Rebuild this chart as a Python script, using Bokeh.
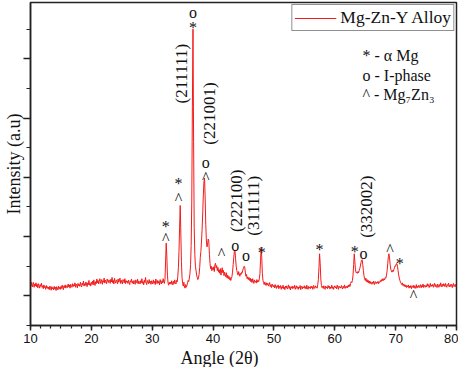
import numpy as np
from bokeh.plotting import figure
from bokeh.models import (Range1d, SingleIntervalTicker, ColumnDataSource, Title,
                          CustomJSTickFormatter)
from bokeh.core.properties import value
from bokeh.embed import file_html
from bokeh.resources import INLINE

# ---------------- data ----------------
# XRD pattern, 2-theta from 10.0 to 80.0 in 0.1 deg steps; intensity (a.u.)
two_theta_start = 10.0
two_theta_step = 0.1
intensity_rows = [
    [42, 34, 46, 30, 38, 45, 29, 40, 33, 44],   # 10
    [31, 39, 27, 41, 35, 26, 38, 32, 43, 29],   # 11
    [34, 24, 37, 28, 32, 22, 35, 27, 31, 23],   # 12
    [30, 21, 33, 25, 19, 31, 24, 28, 20, 32],   # 13
    [23, 29, 18, 31, 26, 20, 33, 24, 29, 22],   # 14
    [32, 25, 36, 27, 21, 34, 28, 37, 26, 31],   # 15
    [35, 28, 40, 30, 37, 26, 39, 32, 29, 41],   # 16
    [31, 38, 33, 44, 29, 40, 35, 27, 42, 34],   # 17
    [39, 32, 46, 36, 30, 43, 37, 50, 33, 41],   # 18
    [35, 47, 40, 31, 44, 38, 52, 36, 42, 33],   # 19
    [46, 39, 50, 37, 54, 43, 35, 48, 41, 57],   # 20
    [44, 52, 40, 49, 58, 42, 47, 55, 39, 51],   # 21
    [46, 60, 43, 53, 48, 41, 57, 50, 45, 54],   # 22
    [49, 42, 56, 47, 62, 44, 52, 40, 59, 48],   # 23
    [43, 54, 49, 41, 57, 46, 51, 60, 42, 53],   # 24
    [47, 40, 55, 49, 44, 58, 41, 52, 46, 50],   # 25
    [42, 53, 45, 38, 51, 47, 57, 43, 49, 40],   # 26
    [52, 45, 39, 54, 48, 43, 56, 41, 50, 46],   # 27
    [40, 51, 44, 58, 42, 48, 37, 53, 45, 62],   # 28
    [44, 38, 52, 47, 41, 55, 43, 49, 39, 51],   # 29
    [46, 40, 54, 43, 49, 38, 57, 45, 41, 52],   # 30
    [43, 49, 37, 55, 46, 40, 51, 44, 58, 47],   # 31
    [42, 56, 118, 178, 135, 70, 44, 36, 46, 40],  # 32
    [47, 39, 51, 43, 37, 49, 41, 54, 45, 40],   # 33
    [52, 47, 64, 95, 150, 230, 305, 215, 115, 62],  # 34
    [42, 33, 46, 30, 26, 38, 29, 35, 44, 52],   # 35
    [48, 60, 75, 105, 170, 320, 640, 900, 520, 230],  # 36
    [140, 100, 85, 70, 62, 55, 60, 72, 95, 130],  # 37
    [150, 185, 225, 280, 340, 385, 397, 330, 240, 185],  # 38
    [165, 175, 192, 185, 140, 110, 92, 100, 85, 95],  # 39
    [88, 98, 82, 105, 110, 95, 102, 85, 96, 80],  # 40
    [88, 76, 92, 70, 84, 95, 78, 86, 68, 80],   # 41
    [72, 64, 78, 60, 70, 58, 66, 55, 62, 52],   # 42
    [58, 65, 80, 105, 130, 150, 155, 125, 100, 85],  # 43
    [78, 70, 82, 74, 66, 76, 72, 80, 78, 88],   # 44
    [95, 100, 98, 80, 66, 72, 58, 64, 55, 62],  # 45
    [52, 60, 48, 56, 45, 58, 50, 42, 54, 47],   # 46
    [50, 43, 55, 46, 52, 48, 58, 75, 120, 165],  # 47
    [130, 75, 52, 45, 38, 47, 40, 35, 44, 37],  # 48
    [42, 33, 39, 45, 31, 37, 28, 40, 34, 30],   # 49
    [36, 27, 38, 30, 25, 34, 29, 37, 24, 32],   # 50
    [28, 35, 22, 31, 26, 36, 24, 30, 21, 33],   # 51
    [27, 34, 23, 29, 37, 25, 32, 20, 30, 26],   # 52
    [33, 24, 31, 27, 36, 22, 29, 34, 25, 31],   # 53
    [22, 30, 26, 35, 21, 28, 33, 24, 30, 27],   # 54
    [34, 25, 31, 23, 36, 28, 22, 32, 26, 30],   # 55
    [24, 33, 27, 31, 22, 35, 29, 25, 34, 28],   # 56
    [30, 26, 38, 55, 95, 142, 110, 60, 35, 28],  # 57
    [32, 25, 34, 28, 22, 33, 27, 30, 24, 35],   # 58
    [28, 33, 23, 30, 26, 36, 25, 31, 22, 29],   # 59
    [34, 27, 31, 24, 36, 29, 22, 33, 28, 30],   # 60
    [26, 35, 29, 23, 32, 27, 37, 25, 31, 28],   # 61
    [33, 27, 36, 30, 38, 32, 42, 48, 45, 52],   # 62
    [70, 105, 142, 115, 88, 78, 80, 76, 82, 78],  # 63
    [85, 92, 100, 112, 120, 122, 105, 85, 68, 58],  # 64
    [52, 60, 48, 55, 46, 52, 43, 50, 41, 48],   # 65
    [45, 39, 47, 42, 50, 38, 44, 48, 41, 46],   # 66
    [43, 49, 41, 47, 45, 52, 48, 55, 51, 58],   # 67
    [52, 58, 54, 62, 60, 70, 85, 108, 132, 142],  # 68
    [128, 105, 90, 84, 80, 86, 82, 88, 95, 102],  # 69
    [100, 108, 109, 100, 85, 70, 60, 52, 46, 42],  # 70
    [38, 44, 35, 40, 32, 38, 30, 36, 28, 34],   # 71
    [30, 37, 26, 33, 28, 35, 24, 32, 29, 36],   # 72
    [27, 34, 25, 31, 38, 26, 33, 29, 36, 28],   # 73
    [32, 38, 27, 35, 30, 40, 28, 36, 33, 29],   # 74
    [36, 30, 41, 33, 38, 28, 35, 42, 31, 37],   # 75
    [33, 39, 29, 36, 42, 31, 38, 34, 28, 40],   # 76
    [35, 29, 38, 32, 44, 36, 30, 39, 33, 41],   # 77
    [37, 31, 42, 34, 29, 38, 35, 43, 30, 36],   # 78
    [32, 40, 34, 28, 37, 42, 31, 36, 39, 30],   # 79
    [34],                                        # 80
]

# peak markers: (2theta, intensity position, symbol)
marker_two_theta = [32.21, 32.21, 34.30, 34.30, 36.71, 36.71, 38.80, 38.80, 41.38,
                    43.63, 45.40, 47.98, 57.47, 63.26, 64.71, 69.06, 70.67, 72.92]
marker_intensity = [235, 195, 380, 327, 955, 906, 450, 400, 142,
                    169, 136, 145, 155, 149, 142, 155, 109, 0]
marker_symbol = ["*", "^", "*", "^", "o", "*", "o", "^", "^",
                 "o", "o", "*", "*", "*", "o", "^", "*", "^"]

# icosahedral indices labels
hkl_two_theta = [34.78, 39.45, 43.80, 46.70, 65.20]
hkl_intensity = [750, 615, 321, 304, 301]
hkl_text = ["(211111)", "(221001)", "(222100)", "(311111)", "(332002)"]

key_text = ["* - \u03b1 Mg", "o - I-phase", "^ - Mg\u2087Zn\u2083"]
key_intensity = [810, 744, 678]
key_two_theta = 64.55

series_name = "Mg-Zn-Y Alloy"
x_title = "Angle (2\u03b8)"
y_title = "Intensity (a.u)"

# ---------------- build ----------------
intensity = [v for row in intensity_rows for v in row]
two_theta = [round(two_theta_start + i * two_theta_step, 2) for i in range(len(intensity))]

SERIF = "Liberation Serif"
SANS = "Liberation Sans"
INK = "#111111"

p = figure(width=458, height=367, output_backend="svg", toolbar_location=None,
           x_range=Range1d(10, 80), y_range=Range1d(-100, 990),
           min_border_left=18, min_border_right=2, min_border_top=2, min_border_bottom=30)
p.background_fill_color = "white"
p.border_fill_color = "white"
p.outline_line_color = "#222222"
p.outline_line_width = 1.5
p.xgrid.visible = False
p.ygrid.visible = False

p.line(two_theta, intensity, line_color="#f21b1b", line_width=1, legend_label=series_name)

# x axis
xa = p.xaxis[0]
xa.ticker = SingleIntervalTicker(interval=10, num_minor_ticks=6)
xa.axis_line_color = "#222222"
xa.axis_line_width = 1.5
xa.major_tick_line_color = "#222222"
xa.minor_tick_line_color = "#222222"
xa.major_tick_line_width = 1.5
xa.minor_tick_line_width = 1.2
xa.major_tick_in = 0
xa.major_tick_out = 5
xa.minor_tick_in = 0
xa.minor_tick_out = 3
xa.major_label_text_font = SANS
xa.major_label_text_font_size = "13px"
xa.major_label_text_color = INK
xa.major_label_standoff = 3

# y axis (ticks only, no numbers)
ya = p.yaxis[0]
ya.ticker = SingleIntervalTicker(interval=200, num_minor_ticks=2)
ya.formatter = CustomJSTickFormatter(code="return ''")
ya.axis_line_color = "#222222"
ya.axis_line_width = 1.5
ya.major_tick_line_color = "#222222"
ya.minor_tick_line_color = "#222222"
ya.major_tick_line_width = 1.5
ya.minor_tick_line_width = 1.2
ya.major_tick_in = 0
ya.major_tick_out = 7
ya.minor_tick_in = 0
ya.minor_tick_out = 4
ya.major_label_standoff = 0
ya.axis_label = y_title
ya.axis_label_text_font = SERIF
ya.axis_label_text_font_size = "18px"
ya.axis_label_text_font_style = "normal"
ya.axis_label_text_color = INK
ya.axis_label_standoff = 0

# x axis title, shifted left like the reference
p.add_layout(Title(text=x_title, align="left", offset=150, standoff=0,
                   text_font=SERIF, text_font_size="18px", text_font_style="normal",
                   text_color=INK), "below")

# peak markers
msrc = ColumnDataSource(dict(x=marker_two_theta, y=marker_intensity, t=marker_symbol))
p.text(x="x", y="y", text="t", source=msrc, text_font=value(SERIF), text_font_size="16px",
       text_align="center", text_baseline="alphabetic", text_color=INK)

# hkl labels (rotated)
hsrc = ColumnDataSource(dict(x=hkl_two_theta, y=hkl_intensity, t=hkl_text))
p.text(x="x", y="y", text="t", source=hsrc, angle=np.pi / 2, text_font=value(SERIF),
       text_font_size="17px", text_align="center", text_baseline="middle", text_color=INK)

# phase key
ksrc = ColumnDataSource(dict(x=[key_two_theta] * len(key_text), y=key_intensity, t=key_text))
p.text(x="x", y="y", text="t", source=ksrc, text_font=value(SERIF), text_font_size="16px",
       text_align="left", text_baseline="middle", text_color=INK)

# legend
lg = p.legend[0]
lg.location = "top_right"
lg.margin = 2
lg.padding = 2
lg.spacing = 0
lg.glyph_width = 42
lg.glyph_height = 20
lg.label_height = 20
lg.label_standoff = 4
lg.label_text_font = SERIF
lg.label_text_font_size = "17.5px"
lg.label_text_color = INK
lg.border_line_color = "#222222"
lg.border_line_width = 1
lg.background_fill_alpha = 1.0

open("out.html", "w").write(file_html(p, INLINE))
